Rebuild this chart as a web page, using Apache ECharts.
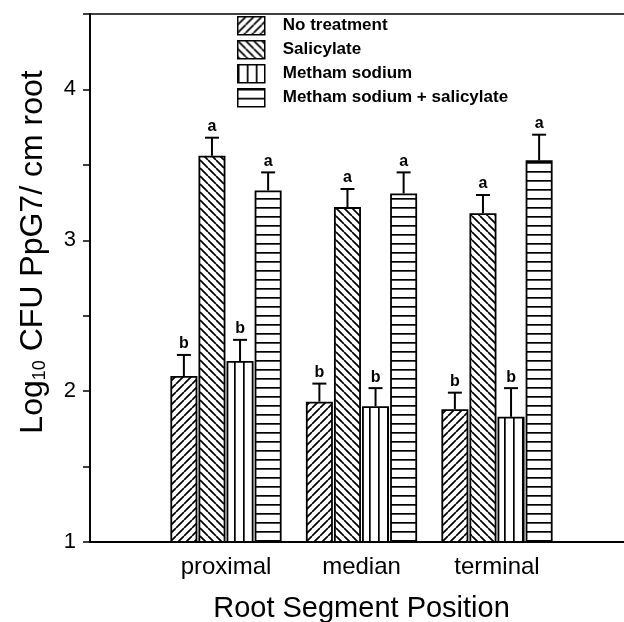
<!DOCTYPE html>
<html>
<head>
<meta charset="utf-8">
<script src="https://cdn.jsdelivr.net/npm/echarts@6/dist/echarts.min.js"></script>
<style>
  html, body { margin: 0; padding: 0; background: #fff; }
  #chart { width: 624px; height: 622px; }
</style>
</head>
<body>
<div id="chart"></div>
<script>
// Root segment positions along the x axis
var categories = ['proximal', 'median', 'terminal'];

// Treatment names (legend order)
var treatments = ['No treatment', 'Salicylate', 'Metham sodium', 'Metham sodium + salicylate'];

// Mean log10 CFU per cm root
var noTreatment      = [2.10, 1.93, 1.88];
var salicylate       = [3.56, 3.22, 3.18];
var methamSodium     = [2.20, 1.90, 1.83];
var methamSalicylate = [3.33, 3.31, 3.53];

// Standard errors (drawn upward only)
var noTreatmentErr      = [0.14, 0.12, 0.11];
var salicylateErr       = [0.12, 0.12, 0.12];
var methamSodiumErr     = [0.14, 0.12, 0.19];
var methamSalicylateErr = [0.12, 0.14, 0.17];

// Significance letters per treatment
var letters = ['b', 'a', 'b', 'a'];

// Y axis range and tick step
var yMin = 1, yMax = 4.5, yStep = 0.5;

var means = [noTreatment, salicylate, methamSodium, methamSalicylate];
var errs = [noTreatmentErr, salicylateErr, methamSodiumErr, methamSalicylateErr];

// Hatch fills
function hatch(kind, size, lw) {
  var c = document.createElement('canvas');
  c.width = size; c.height = size;
  var g = c.getContext('2d');
  g.fillStyle = '#fff';
  g.fillRect(0, 0, size, size);
  g.fillStyle = '#000';
  g.strokeStyle = '#000';
  g.lineWidth = lw;
  if (kind === '/' || kind === '\\') {
    g.beginPath();
    for (var k = -1; k <= 1; k++) {
      if (kind === '/') { g.moveTo(k * size, size); g.lineTo(k * size + size, 0); }
      else { g.moveTo(k * size, 0); g.lineTo(k * size + size, size); }
    }
    g.stroke();
  } else if (kind === '|') {
    g.fillRect(0, 0, lw, size);
  } else {
    g.fillRect(0, 0, size, lw);
  }
  return { image: c, repeat: 'repeat' };
}

var fills = [hatch('/', 8, 1.7), hatch('\\', 8, 1.7), hatch('|', 9, 1.7), hatch('-', 9, 1.7)];

var BAR_W = 27, BAR_GAP = 1.08;
var FONT = '"Liberation Sans", Arial, Helvetica, sans-serif';

var barSeries = treatments.map(function (name, i) {
  return {
    name: name,
    type: 'bar',
    xAxisIndex: 1,
    yAxisIndex: 1,
    barWidth: BAR_W,
    barGap: '4%',
    clip: true,
    data: means[i],
    itemStyle: { color: fills[i], borderColor: '#000', borderWidth: 1.8 },
    z: 3
  };
});

// Error bar rows: [category index, mean, error, treatment index]
var errRows = [];
means.forEach(function (arr, s) {
  arr.forEach(function (v, c) { errRows.push([c, v, errs[s][c], s]); });
});

var errSeries = {
  type: 'custom',
  xAxisIndex: 1,
  yAxisIndex: 1,
  data: errRows,
  z: 5,
  silent: true,
  renderItem: function (params, api) {
    var c = api.value(0), v = api.value(1), e = api.value(2), s = api.value(3);
    var p0 = api.coord([c, v]);
    var p1 = api.coord([c, v + e]);
    var x = p0[0] + (s - 1.5) * (BAR_W + BAR_GAP);
    var st = { stroke: '#000', lineWidth: 2 };
    return {
      type: 'group',
      children: [
        { type: 'line', shape: { x1: x, y1: p0[1], x2: x, y2: p1[1] }, style: st },
        { type: 'line', shape: { x1: x - 7, y1: p1[1], x2: x + 7, y2: p1[1] }, style: st },
        { type: 'text', style: { text: letters[s], x: x, y: p1[1] - 3, textAlign: 'center', textVerticalAlign: 'bottom',
            font: 'bold 16px ' + FONT, fill: '#000' } }
      ]
    };
  }
};

var chart = echarts.init(document.getElementById('chart'), null, { renderer: 'canvas' });

chart.setOption({
  animation: false,
  backgroundColor: '#fff',
  grid: [
    { left: 90, top: 14, right: -10, bottom: 80, outerBoundsMode: 'none', containLabel: false,
      show: true, borderColor: '#000', borderWidth: 1.5, backgroundColor: 'transparent' },
    { left: 158.25, top: 14, right: 59.25, bottom: 80, outerBoundsMode: 'none', containLabel: false }
  ],
  legend: {
    orient: 'vertical',
    left: 232,
    top: 11,
    itemWidth: 27,
    itemHeight: 18,
    itemGap: 4.5,
    icon: 'rect',
    data: treatments,
    itemStyle: { borderColor: '#000', borderWidth: 1.5 },
    textStyle: { fontFamily: FONT, fontWeight: 'bold', fontSize: 17, color: '#000', padding: [0, 0, 0, 13] }
  },
  xAxis: [
    { type: 'value', gridIndex: 0, min: 0, max: 1, z: 10,
      axisLine: { show: true, lineStyle: { color: '#000', width: 1.8 } },
      axisTick: { show: false }, axisLabel: { show: false }, splitLine: { show: false } },
    { type: 'category', gridIndex: 1, data: categories,
      axisLine: { show: false }, axisTick: { show: false }, splitLine: { show: false },
      axisLabel: { fontFamily: FONT, fontSize: 24, color: '#000', margin: 13 },
      name: 'Root Segment Position', nameLocation: 'middle', nameGap: 52, nameMoveOverlap: false,
      nameTextStyle: { fontFamily: FONT, fontSize: 29, color: '#000' } }
  ],
  yAxis: [
    { type: 'value', gridIndex: 0, min: yMin, max: yMax, interval: yStep, z: 10,
      axisLine: { show: true, lineStyle: { color: '#000', width: 1.8 } },
      axisTick: { show: true, inside: false, length: 7, lineStyle: { color: '#000', width: 1.5 } },
      splitLine: { show: false },
      axisLabel: { fontFamily: FONT, fontSize: 22, color: '#000', margin: 14,
        formatter: function (v) { return Math.abs(v - Math.round(v)) < 1e-9 ? String(Math.round(v)) : ''; } } },
    { type: 'value', gridIndex: 1, min: yMin, max: yMax, interval: yStep, show: false }
  ],
  graphic: [
    { type: 'text', x: 33, y: 252, rotation: Math.PI / 2,
      style: {
        text: 'Log{sub|10} CFU PpG7/ cm root',
        textAlign: 'center', textVerticalAlign: 'middle',
        font: '32px ' + FONT, fill: '#000',
        rich: { sub: { fontSize: 18, fontFamily: FONT, padding: [13, 0, 0, 0], verticalAlign: 'bottom' } }
      } }
  ],
  series: barSeries.concat([errSeries])
});
</script>
</body>
</html>
